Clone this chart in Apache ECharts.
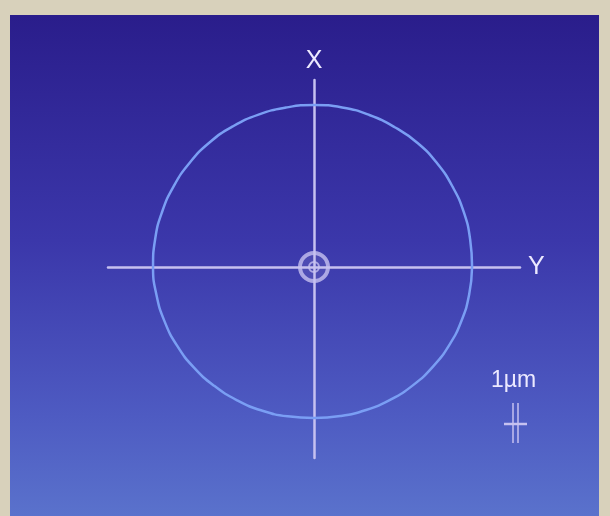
<!DOCTYPE html>
<html>
<head>
<meta charset="utf-8">
<style>
  html, body { margin: 0; padding: 0; background: #d8d1bb; }
  #chart { width: 610px; height: 516px; }
</style>
<script src="https://cdn.jsdelivr.net/npm/echarts@6/dist/echarts.min.js"></script>
</head>
<body>
<div id="chart"></div>
<script>
// Roundness profile: measurement angle (degrees, counter-clockwise from +Y) and radius (relative)
const angles = [0, 10, 20, 30, 40, 50, 60, 70, 80, 90, 100, 110,
                120, 130, 140, 150, 160, 170, 180, 190, 200, 210, 220, 230,
                240, 250, 260, 270, 280, 290, 300, 310, 320, 330, 340, 350];
const radii = [0.988, 0.991, 0.997, 1.001, 1.006, 1.010, 1.009, 1.011, 1.013, 1.013, 1.012, 1.014,
               1.015, 1.016, 1.014, 1.012, 1.010, 1.008, 1.006, 1.000, 0.994, 0.987, 0.979, 0.970,
               0.962, 0.955, 0.948, 0.944, 0.946, 0.951, 0.957, 0.964, 0.970, 0.976, 0.981, 0.985];
const axisNames = { horizontal: 'Y', vertical: 'X' };
const scaleLabel = '1\u00b5m';

// Convert polar readings to cartesian points and close the contour
const profile = angles.map((a, i) => {
  const t = a * Math.PI / 180;
  return [radii[i] * Math.cos(t), radii[i] * Math.sin(t)];
});
profile.push(profile[0]);

const lavender = '#c6c1f0';
const textColor = '#ece9ff';
const font = 'Liberation Sans, Arial, sans-serif';

const chart = echarts.init(document.getElementById('chart'), null, { renderer: 'canvas' });

chart.setOption({
  backgroundColor: '#d8d1bb',
  animation: false,
  graphic: [
    {
      type: 'rect', z: -10, silent: true,
      shape: { x: 10, y: 15, width: 589, height: 501 },
      style: {
        fill: new echarts.graphic.LinearGradient(0, 0, 0, 1, [
          { offset: 0, color: '#2a1d8b' },
          { offset: 0.45, color: '#3b37aa' },
          { offset: 0.8, color: '#4e5bc2' },
          { offset: 1, color: '#5a72cc' }
        ])
      }
    },
    {
      type: 'group', z: 10,
      children: [
        { type: 'text', x: 491, y: 369,
          style: { text: scaleLabel, fill: textColor, font: '23px ' + font } },
        { type: 'line', shape: { x1: 513, y1: 403, x2: 513, y2: 443 },
          style: { stroke: lavender, lineWidth: 1.5 } },
        { type: 'line', shape: { x1: 518, y1: 403, x2: 518, y2: 443 },
          style: { stroke: lavender, lineWidth: 1.5 } },
        { type: 'line', shape: { x1: 504, y1: 424, x2: 527, y2: 424 },
          style: { stroke: lavender, lineWidth: 2.5 } }
      ]
    }
  ],
  grid: { left: 108, right: 90, top: 80, bottom: 58, containLabel: false },
  xAxis: {
    type: 'value', min: -1.2875, max: 1.2875,
    name: axisNames.horizontal, nameLocation: 'end', nameGap: 8,
    nameTextStyle: { color: textColor, fontSize: 25, fontFamily: font, verticalAlign: 'middle' },
    axisLine: { show: true, onZero: true, lineStyle: { color: lavender, width: 2.5 } },
    axisTick: { show: false }, axisLabel: { show: false }, splitLine: { show: false }
  },
  yAxis: {
    type: 'value', min: -1.194, max: 1.169,
    name: axisNames.vertical, nameLocation: 'end', nameGap: 6,
    nameTextStyle: { color: textColor, fontSize: 25, fontFamily: font },
    axisLine: { show: true, onZero: true, lineStyle: { color: lavender, width: 2.5 } },
    axisTick: { show: false }, axisLabel: { show: false }, splitLine: { show: false }
  },
  series: [
    {
      type: 'line', data: profile, smooth: true, showSymbol: false,
      lineStyle: { color: '#7a9ef4', width: 2.5 }, z: 3
    },
    {
      type: 'scatter', data: [[0, 0]], symbol: 'circle', symbolSize: 28,
      itemStyle: { color: 'rgba(200,195,240,0.15)', borderColor: lavender, borderWidth: 4 }, z: 4
    },
    {
      type: 'scatter', data: [[0, 0]], symbol: 'circle', symbolSize: 10,
      itemStyle: { color: 'rgba(0,0,0,0)', borderColor: lavender, borderWidth: 2 }, z: 4
    }
  ]
});
</script>
</body>
</html>
